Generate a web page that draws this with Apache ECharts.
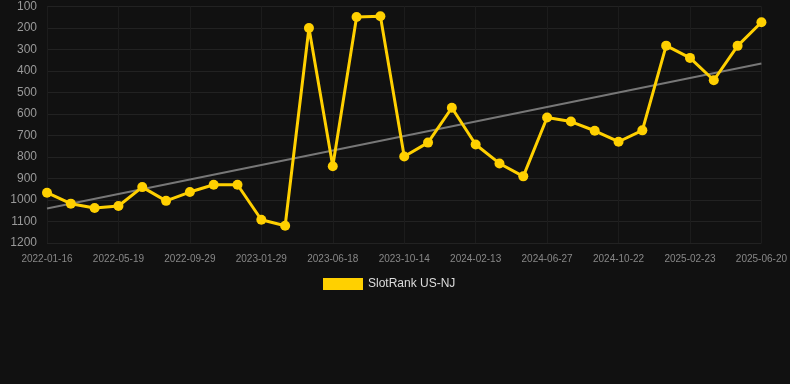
<!DOCTYPE html>
<html>
<head>
<meta charset="utf-8">
<script src="https://cdn.jsdelivr.net/npm/echarts@6/dist/echarts.min.js"></script>
<style>
html,body{margin:0;padding:0;background:#111111;}
#c{width:790px;height:384px;}
</style>
</head>
<body>
<div id="c"></div>
<script>
const categories = [
  '2022-01-16','2022-02-26','2022-04-08','2022-05-19','2022-07-02','2022-08-15',
  '2022-09-29','2022-11-09','2022-12-19','2023-01-29','2023-03-16','2023-05-02',
  '2023-06-18','2023-07-28','2023-09-05','2023-10-14','2023-11-22','2024-01-03',
  '2024-02-13','2024-03-28','2024-05-12','2024-06-27','2024-08-05','2024-09-13',
  '2024-10-22','2024-12-04','2025-01-14','2025-02-23','2025-04-03','2025-05-12',
  '2025-06-20'
];
const rankValues = [
  966, 1017, 1037, 1028, 940, 1004, 963, 929, 929, 1092, 1120, 200,
  843, 149, 145, 798, 733, 571, 742, 830, 890, 616, 635, 678,
  729, 676, 282, 339, 443, 283, 173
];
const trendEnds = [1040, 365];
const seriesName = 'SlotRank US-NJ';

const trendData = categories.map((c, i) =>
  i === 0 ? trendEnds[0] : (i === categories.length - 1 ? trendEnds[1] : null));

const chart = echarts.init(document.getElementById('c'), null, {renderer: 'canvas'});
chart.setOption({
  backgroundColor: '#111111',
  animation: false,
  grid: {left: 47, right: 28, top: 6.5, bottom: 141, containLabel: false},
  legend: {
    data: [{name: seriesName, icon: 'rect'}],
    top: 273,
    left: 318,
    itemWidth: 40,
    itemHeight: 12,
    textStyle: {color: '#dddddd', fontSize: 12, fontFamily: 'Arial, Liberation Sans, sans-serif'}
  },
  xAxis: {
    type: 'category',
    data: categories,
    boundaryGap: false,
    axisLine: {show: false},
    axisTick: {show: false},
    axisLabel: {interval: 2, color: '#888888', fontSize: 10, margin: 11,
      fontFamily: 'Arial, Liberation Sans, sans-serif'},
    splitLine: {show: true, interval: 2, lineStyle: {color: '#1c1c1c', width: 1}}
  },
  yAxis: {
    type: 'value',
    inverse: true,
    min: 100,
    max: 1200,
    interval: 100,
    axisLine: {show: false},
    axisTick: {show: false},
    axisLabel: {color: '#999999', fontSize: 12, margin: 10,
      formatter: function (v) { return String(v); },
      fontFamily: 'Arial, Liberation Sans, sans-serif'},
    splitLine: {show: true, lineStyle: {color: '#222222', width: 1}}
  },
  series: [
    {
      name: 'trend',
      type: 'line',
      data: trendData,
      connectNulls: true,
      symbol: 'none',
      silent: true,
      lineStyle: {color: '#777777', width: 2},
      z: 1
    },
    {
      name: seriesName,
      type: 'line',
      data: rankValues,
      symbol: 'circle',
      symbolSize: 10,
      itemStyle: {color: '#FFD000'},
      lineStyle: {color: '#FFD000', width: 3},
      z: 2
    }
  ]
});
</script>
</body>
</html>
